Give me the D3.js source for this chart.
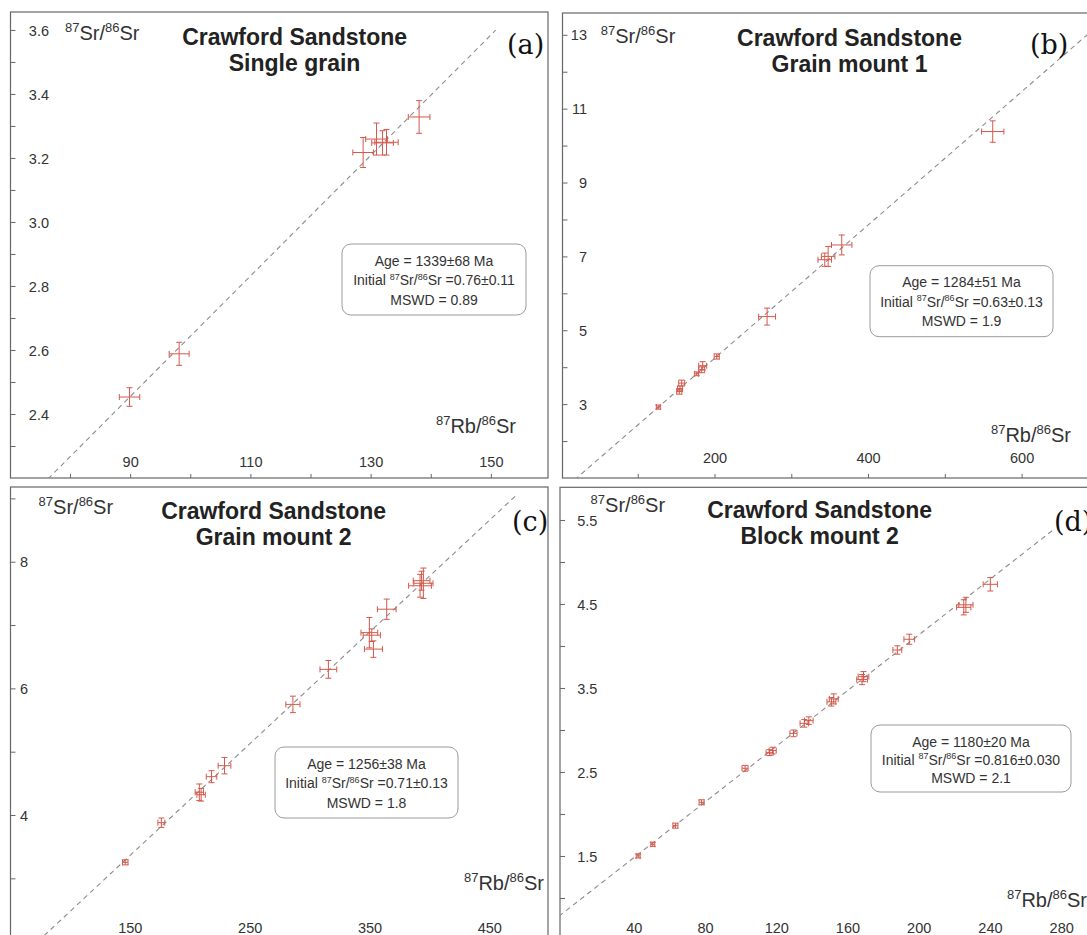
<!DOCTYPE html>
<html>
<head>
<meta charset="utf-8">
<script src="https://cdn.jsdelivr.net/npm/d3@7"></script>
<style>
  html, body { margin: 0; padding: 0; background: #fff; }
  svg { display: block; font-family: "Liberation Sans", Arial, sans-serif; }
</style>
</head>
<body>
<svg id="chart" width="1087" height="935"></svg>
<script>
// ---------------- Data ----------------
// Rb-Sr isochron data, each point: [87Rb/86Sr, 87Sr/86Sr, ±Rb/Sr, ±Sr/Sr]
const singleGrain = [
  [89.9, 2.453, 1.70, 0.029],
  [98.15, 2.588, 1.66, 0.036],
  [128.75, 3.217, 1.71, 0.047],
  [130.98, 3.259, 1.80, 0.050],
  [131.98, 3.247, 1.80, 0.038],
  [132.64, 3.249, 1.94, 0.040],
  [138.06, 3.328, 1.80, 0.051]
];
const grainMount1 = [
  [126.8, 2.92, 2.6, 0.055],
  [154.1, 3.34, 3.3, 0.07],
  [155.1, 3.42, 3.3, 0.07],
  [157.3, 3.57, 3.9, 0.08],
  [176.8, 3.82, 2.6, 0.05],
  [183.3, 3.93, 3.9, 0.08],
  [184.6, 4.04, 5.2, 0.11],
  [202.9, 4.29, 3.3, 0.07],
  [268.5, 5.37, 11.0, 0.23],
  [343.6, 6.91, 8.8, 0.18],
  [348.0, 7.00, 8.8, 0.27],
  [365.7, 7.31, 13.3, 0.27],
  [562.4, 10.38, 14.5, 0.29]
];
const grainMount2 = [
  [146.2, 3.253, 2.3, 0.04],
  [176.3, 3.879, 2.9, 0.074],
  [208.0, 4.36, 3.5, 0.13],
  [209.5, 4.32, 3.5, 0.10],
  [218.2, 4.605, 4.4, 0.095],
  [229.0, 4.779, 5.3, 0.13],
  [286.1, 5.747, 5.9, 0.13],
  [315.7, 6.30, 7.0, 0.14],
  [349.9, 6.88, 7.0, 0.24],
  [351.9, 6.84, 7.2, 0.10],
  [353.3, 6.62, 7.5, 0.13],
  [364.4, 7.25, 7.8, 0.16],
  [392.2, 7.62, 9.5, 0.18],
  [395.0, 7.66, 8.0, 0.24],
  [393.5, 7.70, 7.0, 0.15]
];
const blockMount2 = [
  [42.5, 1.500, 1.1, 0.024],
  [50.7, 1.639, 1.1, 0.024],
  [63.4, 1.861, 1.4, 0.03],
  [78.1, 2.139, 1.4, 0.03],
  [102.5, 2.544, 1.7, 0.035],
  [116.3, 2.730, 2.0, 0.035],
  [118.0, 2.755, 2.0, 0.04],
  [129.7, 2.960, 2.0, 0.04],
  [135.8, 3.079, 2.4, 0.045],
  [138.3, 3.111, 2.4, 0.045],
  [151.0, 3.335, 2.5, 0.05],
  [152.3, 3.370, 2.5, 0.06],
  [168.2, 3.600, 3.0, 0.06],
  [169.0, 3.635, 3.0, 0.06],
  [188.0, 3.952, 2.5, 0.05],
  [194.7, 4.080, 3.0, 0.06],
  [225.3, 4.460, 4.0, 0.09],
  [226.5, 4.490, 4.0, 0.09],
  [240.2, 4.734, 4.0, 0.08]
];

// Isochron results
const panelTags   = ["(a)", "(b)", "(c)", "(d)"];
const sampleNames = ["Single grain", "Grain mount 1", "Grain mount 2", "Block mount 2"];
const ages        = [1339, 1284, 1256, 1180];
const ageErrors   = [68, 51, 38, 20];
const initials    = ["0.76", "0.63", "0.71", "0.816"];
const initialErrs = ["0.11", "0.13", "0.13", "0.030"];
const mswds       = ["0.89", "1.9", "1.8", "2.1"];
const lambdaRb    = 1.393e-11;   // 87Rb decay constant (1/yr)

// Axis ranges and ticks
const xDomains = [[70.1, 159.5], [2, 691.7], [50.4, 499], [-1.4, 297.3]];
const yDomains = [[2.2, 3.656], [1.0, 13.59], [1.963, 9.18], [0.452, 5.889]];
const xTicks = [
  d3.range(80, 151, 10),
  d3.range(100, 601, 100),
  d3.range(100, 451, 50),
  d3.range(20, 281, 20)
];
const xTickLabels = [[90, 110, 130, 150], [200, 400, 600], [150, 250, 350, 450], [40, 80, 120, 160, 200, 240, 280]];
const yTicks = [
  d3.range(23, 37).map(v => v / 10),
  d3.range(2, 14),
  d3.range(2, 10),
  d3.range(2, 12).map(v => v / 2)
];
const yTickLabels = [[2.4, 2.6, 2.8, 3.0, 3.2, 3.4, 3.6], [3, 5, 7, 9, 11, 13], [4, 6, 8], [1.5, 2.5, 3.5, 4.5, 5.5]];
const yTickFormats = [".1f", "d", "d", ".1f"];
// x extent over which each isochron is drawn
const lineExtents = [[70, 150.8], [0, 700], [40, 472], [-2, 276]];

// ---------------- Layout ----------------
const layout = [
  { frame: [10.5, 12, 548, 478],  ytl: 49,    xtl: 462, title: [294.6, 44.7], ylab: [65, 40],    xlab: [516, 433],  tag: [507, 54],  box: [342, 244, 184, 71, 19.6] },
  { frame: [562.5, 13, 1092, 478], ytl: 587,  xtl: 458, title: [849.5, 46],   ylab: [600.8, 43], xlab: [1071, 442], tag: [1030, 54], box: [870, 265.7, 183, 71, 19.5] },
  { frame: [10.5, 487, 548, 944], ytl: 28,    xtl: 928, title: [273.6, 519],  ylab: [38.6, 514], xlab: [544, 890],  tag: [512, 531], box: [275, 747, 183, 71, 19.5] },
  { frame: [560, 487.3, 1092, 944], ytl: 597.4, xtl: 928, title: [819.7, 518], ylab: [590.6, 512], xlab: [1087, 907], tag: [1054, 531], box: [871, 725, 200, 67, 18] }
];
const datasets = [singleGrain, grainMount1, grainMount2, blockMount2];

// ---------------- Drawing ----------------
const svg = d3.select("#chart");
svg.append("rect").attr("width", 1087).attr("height", 935).attr("fill", "#ffffff");

const ERR = "#d4584c";
const AXIS = "#666666";
const TEXT = "#333333";

// Text with superscript pieces: parts = [[string, isSup], ...]
function richText(g, parts, x, y, size, anchor, fill) {
  const t = g.append("text")
    .attr("x", x).attr("y", y)
    .attr("text-anchor", anchor)
    .attr("fill", fill)
    .style("font-size", size + "px");
  const supSize = Math.round(size * 0.64);
  const rise = size * 0.38;
  let up = false;
  parts.forEach(([str, sup]) => {
    const s = t.append("tspan").text(str);
    if (sup && !up) { s.attr("dy", -rise).style("font-size", supSize + "px"); up = true; }
    else if (sup) { s.style("font-size", supSize + "px"); }
    else if (!sup && up) { s.attr("dy", rise); up = false; }
  });
  return t;
}

const srRatio = [["87", 1], ["Sr/", 0], ["86", 1], ["Sr", 0]];
const rbRatio = [["87", 1], ["Rb/", 0], ["86", 1], ["Sr", 0]];

datasets.forEach((data, i) => {
  const L = layout[i];
  const [l, t, r, b] = L.frame;
  const g = svg.append("g");

  const x = d3.scaleLinear().domain(xDomains[i]).range([l, r]);
  const y = d3.scaleLinear().domain(yDomains[i]).range([b, t]);

  const clipId = "clip" + i;
  g.append("clipPath").attr("id", clipId)
    .append("rect").attr("x", l).attr("y", t).attr("width", r - l).attr("height", b - t);

  // frame
  g.append("rect")
    .attr("x", l).attr("y", t).attr("width", r - l).attr("height", b - t)
    .attr("fill", "#fff").attr("stroke", AXIS).attr("stroke-width", 1.2);

  // y axis: ticks point inward, labels sit inside the frame
  const yFmt = d3.format(yTickFormats[i]);
  const yLab = new Set(yTickLabels[i].map(v => v.toFixed(3)));
  const yAxis = d3.axisLeft(y)
    .tickValues(yTicks[i])
    .tickSizeInner(-5).tickSizeOuter(0)
    .tickFormat(d => yLab.has(d.toFixed(3)) ? yFmt(d) : "");
  const ya = g.append("g").attr("transform", `translate(${l},0)`).call(yAxis);
  ya.select(".domain").remove();
  ya.selectAll(".tick line").attr("stroke", AXIS);
  ya.selectAll(".tick text")
    .attr("x", L.ytl - l).attr("dy", "0.35em")
    .attr("text-anchor", "end")
    .attr("fill", TEXT)
    .style("font-size", "14.5px")
    .style("font-family", "'Liberation Sans', Arial, sans-serif");

  // x axis along bottom edge
  const xLab = new Set(xTickLabels[i]);
  const xAxis = d3.axisBottom(x)
    .tickValues(xTicks[i])
    .tickSizeInner(-4).tickSizeOuter(0)
    .tickFormat(d => xLab.has(d) ? String(d) : "");
  const xa = g.append("g").attr("transform", `translate(0,${b})`).call(xAxis);
  xa.select(".domain").remove();
  xa.selectAll(".tick line").attr("stroke", AXIS);
  xa.selectAll(".tick text")
    .attr("y", L.xtl - b).attr("dy", "0.35em")
    .attr("fill", TEXT)
    .style("font-size", "14.5px")
    .style("font-family", "'Liberation Sans', Arial, sans-serif");

  const plot = g.append("g").attr("clip-path", `url(#${clipId})`);

  // isochron
  const slope = Math.exp(lambdaRb * ages[i] * 1e6) - 1;
  const i0 = +initials[i];
  const [xa0, xa1] = lineExtents[i];
  plot.append("line")
    .attr("x1", x(xa0)).attr("y1", y(i0 + slope * xa0))
    .attr("x2", x(xa1)).attr("y2", y(i0 + slope * xa1))
    .attr("stroke", "#8c8c8c").attr("stroke-width", 1.1)
    .attr("stroke-dasharray", "5,4");

  // error crosses with end caps
  const cap = 3;
  const pts = plot.selectAll("g.pt").data(data).join("g").attr("class", "pt")
    .attr("stroke", ERR).attr("stroke-width", 1).attr("fill", "none");
  pts.append("line")
    .attr("x1", d => x(d[0] - d[2])).attr("x2", d => x(d[0] + d[2]))
    .attr("y1", d => y(d[1])).attr("y2", d => y(d[1]));
  pts.append("line")
    .attr("x1", d => x(d[0])).attr("x2", d => x(d[0]))
    .attr("y1", d => y(d[1] - d[3])).attr("y2", d => y(d[1] + d[3]));
  [-1, 1].forEach(sgn => {
    pts.append("line")
      .attr("x1", d => x(d[0] + sgn * d[2])).attr("x2", d => x(d[0] + sgn * d[2]))
      .attr("y1", d => y(d[1]) - cap).attr("y2", d => y(d[1]) + cap);
    pts.append("line")
      .attr("x1", d => x(d[0]) - cap).attr("x2", d => x(d[0]) + cap)
      .attr("y1", d => y(d[1] + sgn * d[3])).attr("y2", d => y(d[1] + sgn * d[3]));
  });

  // titles
  g.append("text").attr("x", L.title[0]).attr("y", L.title[1])
    .attr("text-anchor", "middle").attr("fill", "#222")
    .style("font-size", "23px").style("font-weight", "bold")
    .text("Crawford Sandstone");
  g.append("text").attr("x", L.title[0]).attr("y", L.title[1] + 26)
    .attr("text-anchor", "middle").attr("fill", "#222")
    .style("font-size", "23px").style("font-weight", "bold")
    .text(sampleNames[i]);

  // axis titles
  richText(g, srRatio, L.ylab[0], L.ylab[1], 20, "start", TEXT);
  richText(g, rbRatio, L.xlab[0], L.xlab[1], 20, "end", TEXT);

  // panel tag
  g.append("text").attr("x", L.tag[0]).attr("y", L.tag[1])
    .attr("fill", "#111")
    .style("font-family", "'DejaVu Serif', 'Liberation Serif', serif")
    .style("font-size", "27px")
    .text(panelTags[i]);

  // results box
  const [bx, by, bw, bh, lh] = L.box;
  g.append("rect").attr("x", bx).attr("y", by).attr("width", bw).attr("height", bh)
    .attr("rx", 9).attr("ry", 9)
    .attr("fill", "#fff").attr("stroke", "#9a9a9a").attr("stroke-width", 1);
  const cx = bx + bw / 2;
  const base = by + 21.5;
  richText(g, [[`Age = ${ages[i]}±${ageErrors[i]} Ma`, 0]], cx, base, 14, "middle", TEXT);
  richText(g, [["Initial ", 0], ["87", 1], ["Sr/", 0], ["86", 1], [`Sr =${initials[i]}±${initialErrs[i]}`, 0]],
    cx, base + lh, 14, "middle", TEXT);
  richText(g, [[`MSWD = ${mswds[i]}`, 0]], cx, base + 2 * lh, 14, "middle", TEXT);
});
</script>
</body>
</html>
